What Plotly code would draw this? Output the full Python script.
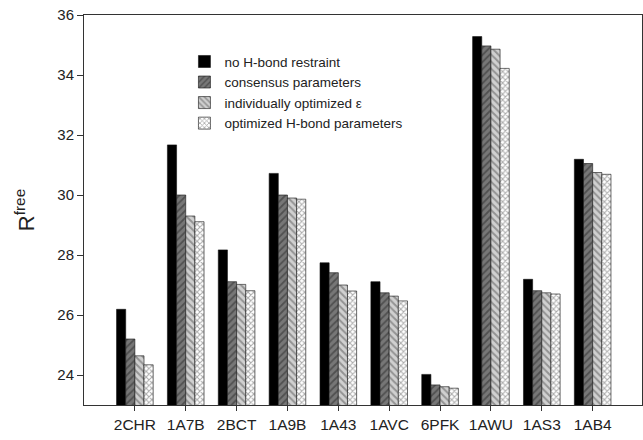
import plotly.graph_objects as go

categories = ["2CHR", "1A7B", "2BCT", "1A9B", "1A43", "1AVC", "6PFK", "1AWU", "1AS3", "1AB4"]
no_hbond = [26.19, 31.67, 28.17, 30.72, 27.74, 27.11, 24.02, 35.28, 27.19, 31.19]
consensus = [25.20, 30.00, 27.11, 30.00, 27.41, 26.74, 23.67, 34.97, 26.81, 31.05]
indiv_eps = [24.64, 29.30, 27.02, 29.90, 27.00, 26.63, 23.61, 34.86, 26.74, 30.75]
opt_hbond = [24.34, 29.11, 26.81, 29.86, 26.80, 26.47, 23.56, 34.22, 26.70, 30.69]
names = ["no H-bond restraint", "consensus parameters",
         "individually optimized \u03b5", "optimized H-bond parameters"]
yticks = [24, 26, 28, 30, 32, 34, 36]

xpos = list(range(len(categories)))
font = "Liberation Sans, Arial, sans-serif"

styles = [
    dict(color="#000000", pattern=dict(shape="")),
    dict(color="#777777", pattern=dict(shape="/", fgcolor="#2a2a2a", size=5, solidity=0.35)),
    dict(color="#d0d0d0", pattern=dict(shape="\\", fgcolor="#555555", size=5, solidity=0.4)),
    dict(color="#ffffff", pattern=dict(shape="x", fgcolor="#555555", size=4, solidity=0.45)),
]

fig = go.Figure()
for name, vals, st in zip(names, [no_hbond, consensus, indiv_eps, opt_hbond], styles):
    fig.add_trace(go.Bar(
        x=xpos, y=vals, name=name,
        marker=dict(color=st["color"], pattern=st["pattern"],
                    line=dict(color="#111111", width=0.6)),
        base=0,
    ))

fig.update_layout(
    width=643, height=440,
    margin=dict(l=84, r=1, t=15, b=35),
    paper_bgcolor="white", plot_bgcolor="white",
    barmode="group", bargap=0.28, bargroupgap=0,
    font=dict(family=font, size=14, color="#222222"),
    showlegend=True,
    legend=dict(x=0.18, y=0.92, xanchor="left", yanchor="top",
                bgcolor="rgba(0,0,0,0)", font=dict(size=13.5, color="#222222"),
                tracegroupgap=0, itemwidth=30),
)
fig.update_xaxes(
    range=[-1, 9.97], tickmode="array", tickvals=xpos, ticktext=categories,
    ticks="outside", ticklen=5, tickcolor="#333", showline=True, linecolor="#333",
    linewidth=1, mirror=True, showgrid=False, zeroline=False,
    tickfont=dict(size=15.5, color="#222"),
)
fig.update_yaxes(
    range=[23, 36], tickmode="array", tickvals=yticks,
    ticks="outside", ticklen=6, tickcolor="#333", showline=True, linecolor="#333",
    linewidth=1, mirror=True, showgrid=False, zeroline=False,
    tickfont=dict(size=15, color="#222"),
    title=dict(text="R<sup>free</sup>", font=dict(size=22, color="#222"), standoff=16),
)
fig.write_html("out.html")
